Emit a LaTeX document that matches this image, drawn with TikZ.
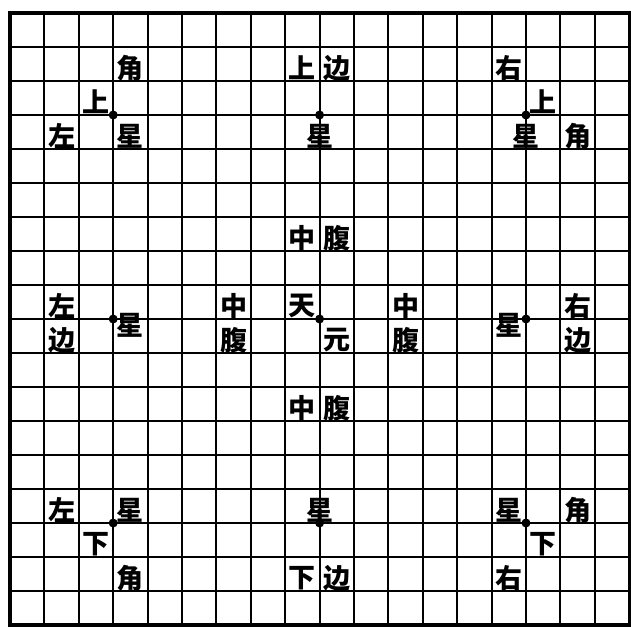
\documentclass[tikz,border=0pt]{standalone}
\usepackage{fontspec}
\newfontfamily\cjk{Noto Sans CJK SC}
\tikzset{
  lbl/.style={font={\cjk\bfseries\fontsize{27}{27}\selectfont}, inner sep=0pt, text=black},
  gridline/.style={line width=2pt, draw=black},
  boardedge/.style={line width=3.2pt, draw=black},
  starpt/.style={circle, fill=black, inner sep=0pt, minimum size=9pt},
}
\newcommand{\lab}[4]{\node[lbl] (#1) at (#2+0.5,#3+0.62) {#4};}
\begin{document}
\begin{tikzpicture}[x=34.4pt,y=-34pt]
\useasboundingbox (-10pt,13pt) rectangle (621pt,-614pt);
% grid
\foreach \i in {1,...,17} {
  \draw[gridline] (\i,0) -- (\i,18);
  \draw[gridline] (0,\i) -- (18,\i);
}
\draw[boardedge] (0,0) rectangle (18,18);
% star points
\foreach \a/\b [count=\k] in {3/3,9/3,15/3,3/9,9/9,15/9,3/15,9/15,15/15}
  \node[starpt] (star\k) at (\a,\b) {};
% top-left
\lab{tlJiao}{3}{1}{角}
\lab{tlShang}{2}{2}{上}
\lab{tlZuo}{1}{3}{左}
\lab{tlXing}{3}{3}{星}
% top-center
\lab{tcShang}{8}{1}{上}
\lab{tcBian}{9}{1}{边}
\node[lbl] (tcXing) at (9,3.62) {星};
% top-right
\lab{trYou}{14}{1}{右}
\lab{trShang}{15}{2}{上}
\node[lbl] (trXing) at (15,3.62) {星};
\lab{trJiao}{16}{3}{角}
% middle
\lab{mtZhong}{8}{6}{中}
\lab{mtFu}{9}{6}{腹}
\lab{mlZuo}{1}{8}{左}
\lab{mlBian}{1}{9}{边}
\node[lbl] (mlXing) at (3.5,9.18) {星};
\lab{mlZhong}{6}{8}{中}
\lab{mlFu}{6}{9}{腹}
\lab{mcTian}{8}{8}{天}
\lab{mcYuan}{9}{9}{元}
\lab{mrZhong}{11}{8}{中}
\lab{mrFu}{11}{9}{腹}
\node[lbl] (mrXing) at (14.5,9.18) {星};
\lab{mrYou}{16}{8}{右}
\lab{mrBian}{16}{9}{边}
\lab{mbZhong}{8}{11}{中}
\lab{mbFu}{9}{11}{腹}
% bottom-left
\lab{blZuo}{1}{14}{左}
\lab{blXing}{3}{14}{星}
\lab{blXia}{2}{15}{下}
\lab{blJiao}{3}{16}{角}
% bottom-center
\node[lbl] (bcXing) at (9,14.62) {星};
\lab{bcXia}{8}{16}{下}
\lab{bcBian}{9}{16}{边}
% bottom-right
\lab{brXing}{14}{14}{星}
\lab{brJiao}{16}{14}{角}
\lab{brXia}{15}{15}{下}
\lab{brYou}{14}{16}{右}
\end{tikzpicture}
\end{document}
